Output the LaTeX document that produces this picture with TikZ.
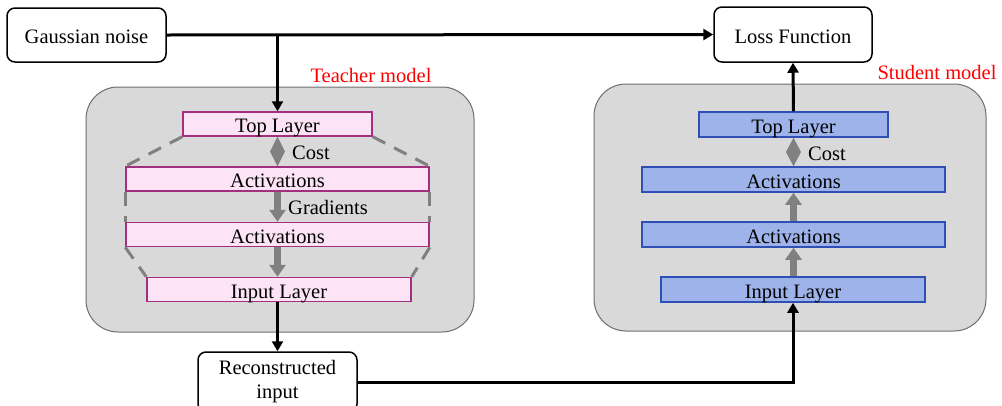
\documentclass[tikz,border=0pt]{standalone}
\usepackage{fontspec}
\setmainfont{Liberation Serif}
\newfontfamily\labelfont{Liberation Serif}
\usetikzlibrary{arrows.meta,calc}
\definecolor{panelfill}{HTML}{D9D9D9}
\definecolor{panelline}{HTML}{6E6E6E}
\definecolor{tfill}{HTML}{FCE4F6}
\definecolor{tline}{HTML}{A3307F}
\definecolor{sfill}{HTML}{9EB3EA}
\definecolor{sline}{HTML}{2F4FB5}
\definecolor{flowgray}{HTML}{808080}
\begin{document}
\begin{tikzpicture}[x=1pt,y=-1pt,
  every node/.style={font=\labelfont\fontsize{20.5}{24}\selectfont, inner sep=0pt},
  iobox/.style={draw=black, line width=1.5pt, rounded corners=8pt, fill=white, align=center},
  panel/.style={draw=panelline, line width=1pt, fill=panelfill, rounded corners=32pt},
  layertext/.style={text height=17pt, text depth=0pt},
  tlayer/.style={layertext, draw=tline, line width=1.5pt, fill=tfill, minimum height=24pt},
  slayer/.style={layertext, draw=sline, line width=1.5pt, fill=sfill, minimum height=25pt},
  flow/.style={draw=black, line width=3pt, -{Triangle[length=10pt,width=11pt]}},
  grayflow/.style={draw=flowgray, line width=7pt, -{Triangle[length=12pt,width=16pt]}},
  boundary/.style={draw=flowgray, line width=3pt, dash pattern=on 14pt off 10pt},
  modelname/.style={text=red}
]
\useasboundingbox (0,0) rectangle (1002,405);

% model panels
\path[panel] (86,87) rectangle (474,332);
\path[panel] (594,84) rectangle (986,331);

% inputs and outputs
\node[iobox, text height=16pt, text depth=0pt, minimum width=159pt, minimum height=54pt] (gauss) at (86.5,35) {Gaussian noise};
\node[iobox, text height=17pt, text depth=0pt, minimum width=158pt, minimum height=55pt] (loss) at (793,34.5) {Loss Function};
\node[iobox, minimum width=159pt, minimum height=60pt] (recon) at (277.5,382) {Reconstructed\\input};

\node[modelname] (tname) at (371,75) {Teacher model};
\node[modelname] (sname) at (937,72) {Student model};

% teacher layers
\node[tlayer, minimum width=189pt] (ttop) at (277.5,124) {Top Layer};
\node[tlayer, minimum width=303pt] (tact1) at (277.5,179) {Activations};
\node[tlayer, minimum width=303pt] (tact2) at (277.5,234.5) {Activations};
\node[tlayer, minimum width=264pt] (tin) at (279,289.5) {Input Layer};

% student layers
\node[slayer, minimum width=189pt] (stop) at (793.5,124.5) {Top Layer};
\node[slayer, minimum width=303pt] (sact1) at (793.5,179.5) {Activations};
\node[slayer, minimum width=303pt] (sact2) at (793.5,234.5) {Activations};
\node[slayer, minimum width=264pt] (sin) at (793,289.5) {Input Layer};

% teacher outline (dashed)
\path[boundary] (ttop.south west) -- (tact1.north west);
\path[boundary] (tact1.south west) -- (tact2.north west);
\path[boundary] (tact2.south west) -- (tin.north west);
\path[boundary] (ttop.south east) -- (tact1.north east);
\path[boundary] (tact1.south east) -- (tact2.north east);
\path[boundary] (tact2.south east) -- (tin.north east);

% cost diamonds
\fill[flowgray] (ttop.south) -- ($(ttop.south)!0.5!(tact1.north)+(7.5,0)$) -- (tact1.north)
  -- ($(ttop.south)!0.5!(tact1.north)+(-7.5,0)$) -- cycle;
\fill[flowgray] (stop.south) -- ($(stop.south)!0.5!(sact1.north)+(7.5,0)$) -- (sact1.north)
  -- ($(stop.south)!0.5!(sact1.north)+(-7.5,0)$) -- cycle;
\node[anchor=west] (tcost) at (292,153) {Cost};
\node[anchor=west] (scost) at (808,154) {Cost};

% gradients (teacher, downward) and forward pass (student, upward)
\path[grayflow] (tact1.south) -- (tact2.north);
\path[grayflow] (tact2.south) -- (tact2.south |- tin.north);
\node[anchor=west] (grad) at (288,207) {Gradients};
\path[grayflow] (sact2.north) -- (sact1.south);
\path[grayflow] (sin.north -| sact2.south) -- (sact2.south);

% data flow
\path[flow] (gauss.east) -- (loss.west);
\path[flow] (gauss.east -| ttop.north) -- (ttop.north);
\path[flow] (recon.north |- tin.south) -- (recon.north);
\path[flow] (recon.east) -| (sin.south);
\path[flow] (stop.north) -- (loss.south);
\end{tikzpicture}
\end{document}
